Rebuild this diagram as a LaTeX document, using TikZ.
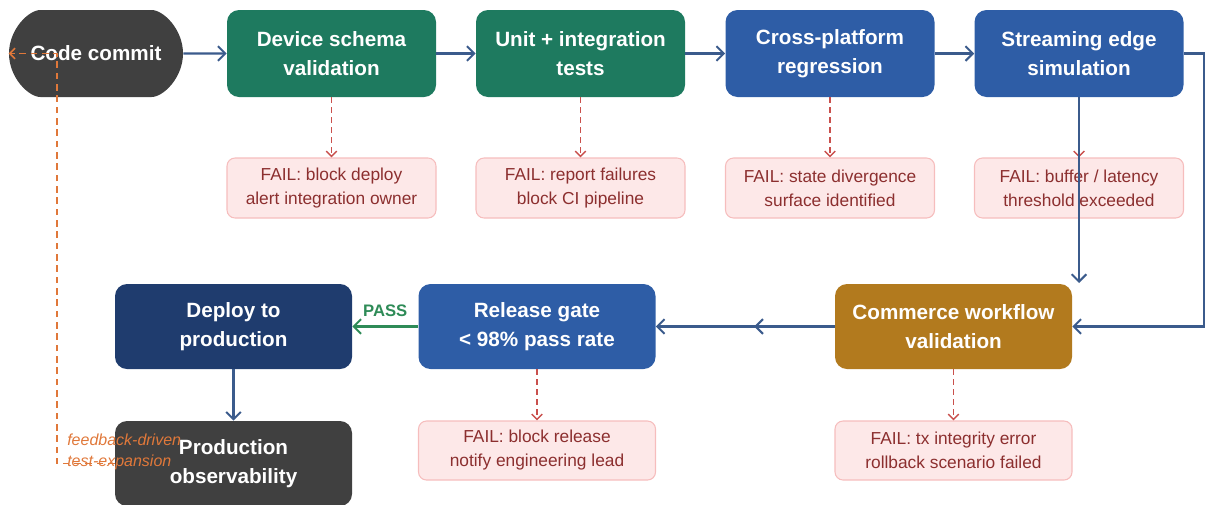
\documentclass[tikz,border=0pt]{standalone}
\usepackage{fontspec}
\setmainfont{Liberation Sans}
\usetikzlibrary{arrows.meta,decorations.markings,shapes.misc}

\definecolor{commitgray}{HTML}{404040}
\definecolor{stagegreen}{HTML}{1E7A5F}
\definecolor{stageblue}{HTML}{2E5DA6}
\definecolor{deploynavy}{HTML}{1F3C6E}
\definecolor{commercegold}{HTML}{B27A1E}
\definecolor{flowcol}{HTML}{3B5B8C}
\definecolor{passgreen}{HTML}{2E8B57}
\definecolor{failfill}{HTML}{FDE8E8}
\definecolor{failline}{HTML}{F6BDBD}
\definecolor{failtext}{HTML}{8C2F2F}
\definecolor{failarr}{HTML}{C9504D}
\definecolor{feedback}{HTML}{E0783A}

\begin{document}
\begin{tikzpicture}[x=0.75pt,y=-0.75pt,
  stage/.style={rectangle, rounded corners=9pt, draw=none, text=white,
    font=\bfseries\fontsize{15.5}{21.75}\selectfont, align=center,
    inner sep=0pt, minimum width=156.75pt, minimum height=65.25pt},
  widestage/.style={stage, minimum width=177.75pt, minimum height=63.75pt},
  failbox/.style={rectangle, rounded corners=6pt, draw=failline, fill=failfill,
    line width=0.8pt, text=failtext, font=\fontsize{13}{18}\selectfont,
    align=center, inner sep=0pt, minimum width=156.75pt, minimum height=45pt},
  widefail/.style={failbox, minimum width=177.75pt, minimum height=44.25pt},
  flow/.style={draw=flowcol, line width=1.6pt,
    -{Straight Barb[length=5.5pt,width=11pt,line width=1.5pt]}},
  passflow/.style={flow, draw=passgreen},
  failarrow/.style={draw=failarr, dash pattern=on 4.5pt off 3pt, line width=1.2pt,
    -{Straight Barb[length=4pt,width=8pt,line width=1.1pt]}},
  midarrow/.style={postaction={decorate}, decoration={markings,
    mark=at position 0.45 with {\arrow{Straight Barb[length=5.5pt,width=11pt,line width=1.5pt]}}}},
  feedbackline/.style={draw=feedback, dash pattern=on 5pt off 3.5pt, line width=1.2pt,
    -{Straight Barb[length=4pt,width=8pt,line width=1.1pt]}}
]
\useasboundingbox (0,0) rectangle (1205,504);
\clip (0,0) rectangle (1205,504);

% top row of pipeline stages
\node[stage, rounded rectangle, fill=commitgray, minimum width=130.5pt] (commit) at (96,53.5) {Code commit};
\node[stage, fill=stagegreen] (schema) at (331.5,53.5) {Device schema\\validation};
\node[stage, fill=stagegreen] (unit) at (580.5,53.5) {Unit + integration\\tests};
\node[stage, fill=stageblue] (cross) at (830,53.5) {Cross-platform\\regression};
\node[stage, fill=stageblue] (stream) at (1079,53.5) {Streaming edge\\simulation};

% failure outcomes of the top row
\node[failbox] (failschema) at (331.5,188) {FAIL: block deploy\\alert integration owner};
\node[failbox] (failunit) at (580.5,188) {FAIL: report failures\\block CI pipeline};
\node[failbox] (failcross) at (830,188) {FAIL: state divergence\\surface identified};
\node[failbox] (failstream) at (1079,188) {FAIL: buffer / latency\\threshold exceeded};

% second row
\node[widestage, fill=commercegold] (commerce) at (953.5,326.5) {Commerce workflow\\validation};
\node[widestage, fill=stageblue] (release) at (537,326.5) {Release gate\\< 98\% pass rate};
\node[widestage, fill=deploynavy] (deploy) at (233.5,326.5) {Deploy to\\production};
\node[widestage, fill=commitgray] (observe) at (233.5,463.5) {Production\\observability};

% failure outcomes of the second row
\node[widefail] (failrelease) at (537,450.5) {FAIL: block release\\notify engineering lead};
\node[widefail] (failcommerce) at (953.5,450.5) {FAIL: tx integrity error\\rollback scenario failed};

% main flow
\draw[flow] (commit) -- (schema);
\draw[flow] (schema) -- (unit);
\draw[flow] (unit) -- (cross);
\draw[flow] (cross) -- (stream);

% failure branches
\draw[failarrow] (schema) -- (failschema);
\draw[failarrow] (unit) -- (failunit);
\draw[failarrow] (cross) -- (failcross);
\draw[failarrow] (stream) -- (failstream);
\draw[failarrow] (release) -- (failrelease);
\draw[failarrow] (commerce) -- (failcommerce);

% streaming stage into commerce validation
\coordinate (streamdrop) at (1079,283);
\draw[flow] (stream.south) -- (streamdrop);
\draw[flow] (stream.east) -- (1204,53.5) -- (1204,326.5) -- (commerce.east);

\draw[flow, midarrow] (commerce) -- (release);
\draw[passflow] (release) -- node[above=3pt, text=passgreen, font=\bfseries\fontsize{12.5}{15}\selectfont] {PASS} (deploy);
\draw[flow] (deploy) -- (observe);

% feedback loop back to the commit
\coordinate (fbbottom) at (57,463.5);
\coordinate (fbtop) at (57,53.5);
\draw[feedbackline] (observe.west) -- (fbbottom) -- (fbtop) -- (commit.west);
\node[anchor=west, align=left, text=feedback, font=\itshape\fontsize{12}{15.75}\selectfont, inner sep=0pt] (fblabel) at (67,452) {feedback-driven\\test-expansion};
\end{tikzpicture}
\end{document}
